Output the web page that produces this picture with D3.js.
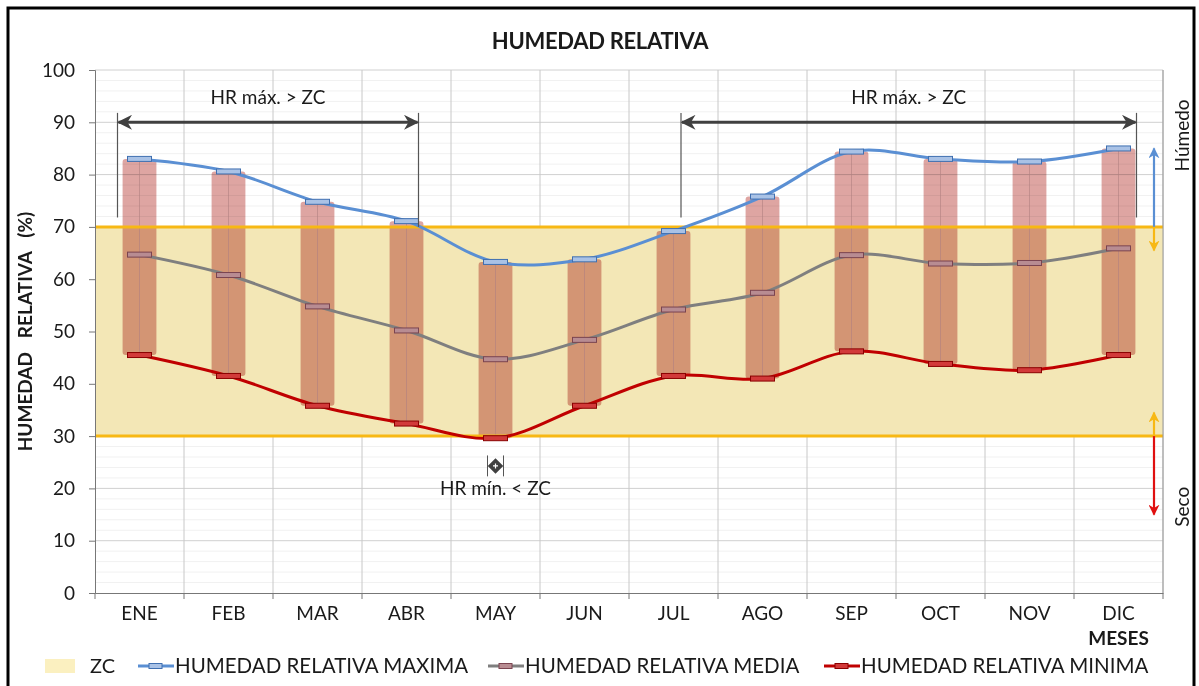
<!DOCTYPE html>
<html>
<head>
<meta charset="utf-8">
<script src="https://cdn.jsdelivr.net/npm/d3@7"></script>
<style>
  body { margin: 0; background: #fff; }
  text { font-family: Lato, "Open Sans", sans-serif; fill: #1a1a1a; }
</style>
</head>
<body>
<div id="chart"></div>
<script>
// ---- data ----
var months = ["ENE", "FEB", "MAR", "ABR", "MAY", "JUN", "JUL", "AGO", "SEP", "OCT", "NOV", "DIC"];
var hrMax   = [83.0, 80.6, 74.8, 71.1, 63.3, 63.8, 69.2, 75.8, 84.4, 83.0, 82.5, 85.0];
var hrMedia = [64.7, 60.8, 54.8, 50.2, 44.7, 48.4, 54.2, 57.4, 64.6, 63.0, 63.1, 65.9];
var hrMin   = [45.5, 41.5, 35.8, 32.4, 29.6, 35.8, 41.5, 41.0, 46.2, 43.8, 42.6, 45.5];
var yTicks  = [0, 10, 20, 30, 40, 50, 60, 70, 80, 90, 100];
var zcLow = 30, zcHigh = 70;

var width = 1199, height = 686;
var margin = {top: 70, right: 36, bottom: 93, left: 95};

var svg = d3.select("#chart").append("svg")
    .attr("width", width)
    .attr("height", height);

var x = d3.scaleBand()
    .domain(months)
    .range([margin.left, width - margin.right])
    .padding(0);

var y = d3.scaleLinear()
    .domain([0, 100])
    .range([height - margin.bottom, margin.top]);

var cx = function(m) { return x(m) + x.bandwidth() / 2; };
var barW = x.bandwidth() * 0.38;

// outer frame
svg.append("rect")
    .attr("x", 8).attr("y", 8)
    .attr("width", width - 13).attr("height", height)
    .style("fill", "none")
    .style("stroke", "#000")
    .style("stroke-width", 3);

// title
svg.append("text")
    .attr("x", 600).attr("y", 49)
    .attr("text-anchor", "middle")
    .style("font-size", "22px")
    .style("font-weight", "bold")
    .style("letter-spacing", "-0.3px")
    .text("HUMEDAD RELATIVA");

// minor gridlines
svg.append("g").selectAll("line")
    .data(d3.range(0, 100, 2).filter(function(v){ return v % 10 != 0; }))
    .enter().append("line")
    .attr("x1", x.range()[0]).attr("x2", x.range()[1])
    .attr("y1", function(d){ return y(d); }).attr("y2", function(d){ return y(d); })
    .style("stroke", "#f1f1f1");

// major gridlines
svg.append("g").selectAll("line")
    .data(yTicks.slice(1))
    .enter().append("line")
    .attr("x1", x.range()[0]).attr("x2", x.range()[1])
    .attr("y1", function(d){ return y(d); }).attr("y2", function(d){ return y(d); })
    .style("stroke", "#d0d0d0");

// vertical gridlines at category boundaries
var bounds = months.map(function(m){ return x(m); }).concat([x.range()[1]]);
svg.append("g").selectAll("line")
    .data(bounds.slice(1))
    .enter().append("line")
    .attr("x1", function(d){ return d; }).attr("x2", function(d){ return d; })
    .attr("y1", y(100)).attr("y2", y(0))
    .style("stroke", "#c8c8c8");

// ZC band
svg.append("rect")
    .attr("x", x.range()[0])
    .attr("y", y(zcHigh))
    .attr("width", x.range()[1] - x.range()[0])
    .attr("height", y(zcLow) - y(zcHigh))
    .style("fill", "#f3e7b6");

// floating bars min -> max
svg.append("g").selectAll("rect")
    .data(months)
    .enter().append("rect")
    .attr("x", function(d){ return cx(d) - barW / 2; })
    .attr("y", function(d, i){ return y(hrMax[i]); })
    .attr("width", barW)
    .attr("height", function(d, i){ return y(hrMin[i]) - y(hrMax[i]); })
    .attr("rx", 3)
    .style("fill", "#dea5a2")
    .style("mix-blend-mode", "multiply");

// thin centre line on each bar
svg.append("g").selectAll("line")
    .data(months)
    .enter().append("line")
    .attr("x1", function(d){ return cx(d); }).attr("x2", function(d){ return cx(d); })
    .attr("y1", function(d, i){ return y(hrMax[i]); })
    .attr("y2", function(d, i){ return y(hrMin[i]); })
    .style("stroke", "#b08080")
    .style("stroke-opacity", 0.6);

// ZC limits
svg.append("g").selectAll("line")
    .data([zcLow, zcHigh])
    .enter().append("line")
    .attr("x1", x.range()[0]).attr("x2", x.range()[1])
    .attr("y1", function(d){ return y(d); }).attr("y2", function(d){ return y(d); })
    .style("stroke", "#f7b814")
    .style("stroke-width", 3);

// axes
var yAxis = svg.append("g")
    .attr("transform", "translate(" + x.range()[0] + ",0)")
    .call(d3.axisLeft(y).tickValues(yTicks).tickSize(6).tickPadding(14));
yAxis.select(".domain").style("stroke", "#777");
yAxis.selectAll(".tick line").style("stroke", "#777");
yAxis.selectAll(".tick text").style("font-size", "19px").style("font-family", "Lato").style("fill", "#1a1a1a");

var xAxis = svg.append("g")
    .attr("transform", "translate(0," + y(0) + ")")
    .call(d3.axisBottom(x).tickSize(0).tickPadding(14));
xAxis.select(".domain").style("stroke", "#777");
xAxis.selectAll(".tick text").style("font-size", "19px").style("font-family", "Lato").style("fill", "#1a1a1a");

svg.append("g").selectAll("line")
    .data(bounds)
    .enter().append("line")
    .attr("x1", function(d){ return d; }).attr("x2", function(d){ return d; })
    .attr("y1", y(0)).attr("y2", y(0) + 6)
    .style("stroke", "#777");

// right plot edge
svg.append("line")
    .attr("x1", x.range()[1]).attr("x2", x.range()[1])
    .attr("y1", y(100)).attr("y2", y(0))
    .style("stroke", "#999");

svg.append("text")
    .attr("x", cx("DIC")).attr("y", 645)
    .attr("text-anchor", "middle")
    .style("font-size", "19px").style("font-weight", "bold")
    .text("MESES");

svg.append("text")
    .attr("transform", "translate(32," + y(50) + ") rotate(-90)")
    .attr("text-anchor", "middle")
    .style("font-size", "19px").style("font-weight", "bold")
    .style("white-space", "pre")
    .text("HUMEDAD   RELATIVA   (%)");

// lines
var series = [
    {name: "HUMEDAD RELATIVA MAXIMA", values: hrMax,   color: "#5a8fd3", mFill: "#a9c2e6", mStroke: "#3f6fb0"},
    {name: "HUMEDAD RELATIVA MEDIA",  values: hrMedia, color: "#7f7f7f", mFill: "#b88c92", mStroke: "#7a4450"},
    {name: "HUMEDAD RELATIVA MINIMA", values: hrMin,   color: "#c00000", mFill: "#d23a3a", mStroke: "#8a0000"}
];

var line = d3.line()
    .curve(d3.curveCatmullRom.alpha(0.5))
    .x(function(d, i){ return cx(months[i]); })
    .y(function(d){ return y(d); });

series.forEach(function(s) {
    svg.append("path")
        .datum(s.values)
        .attr("d", line)
        .style("fill", "none")
        .style("stroke", s.color)
        .style("stroke-width", 3);
});

series.forEach(function(s) {
    svg.append("g").selectAll("rect")
        .data(s.values)
        .enter().append("rect")
        .attr("x", function(d, i){ return cx(months[i]) - 12; })
        .attr("y", function(d){ return y(d) - 2.5; })
        .attr("width", 24).attr("height", 5)
        .style("fill", s.mFill)
        .style("stroke", s.mStroke)
        .style("stroke-width", 1);
});

// ---- annotations ----
var dark = "#404040";
var defs = svg.append("defs");
function marker(id, color) {
    defs.append("marker")
        .attr("id", id)
        .attr("viewBox", "0 0 10 10")
        .attr("refX", 9).attr("refY", 5)
        .attr("markerWidth", 5).attr("markerHeight", 5)
        .attr("orient", "auto-start-reverse")
        .append("path")
        .attr("d", "M0,0 L10,5 L0,10 L3,5 Z")
        .style("fill", color);
}
marker("ah-dark", dark);
marker("ah-blue", "#5a8fd3");
marker("ah-orange", "#f7b814");
marker("ah-red", "#e01010");

function spanArrow(x1, x2, bottoms, label) {
    var g = svg.append("g");
    [x1, x2].forEach(function(xx, i) {
        g.append("line")
            .attr("x1", xx).attr("x2", xx)
            .attr("y1", y(91.8)).attr("y2", y(bottoms[i]))
            .style("stroke", "#555").style("stroke-width", 1.2);
    });
    g.append("line")
        .attr("x1", x1 + 1).attr("x2", x2 - 1)
        .attr("y1", y(90)).attr("y2", y(90))
        .attr("marker-start", "url(#ah-dark)")
        .attr("marker-end", "url(#ah-dark)")
        .style("stroke", dark).style("stroke-width", 3);
    g.append("text")
        .attr("x", (x1 + x2) / 2).attr("y", y(93.5))
        .attr("text-anchor", "middle")
        .style("font-size", "19px")
        .text(label);
}
spanArrow(cx("ENE") - 22, cx("ABR") + 12, [71.8, 70], "HR máx. > ZC");
spanArrow(cx("JUL") + 7.5, cx("DIC") + 18, [71.8, 71.8], "HR máx. > ZC");

// HR min < ZC marker under MAY
var mx = cx("MAY");
[-8, 8].forEach(function(o) {
    svg.append("line")
        .attr("x1", mx + o).attr("x2", mx + o)
        .attr("y1", y(26.3)).attr("y2", y(22.3))
        .style("stroke", "#555");
});
svg.append("rect")
    .attr("x", -5.5).attr("y", -5.5).attr("width", 11).attr("height", 11)
    .attr("transform", "translate(" + mx + "," + y(24.3) + ") rotate(45)")
    .style("fill", dark);
svg.append("path")
    .attr("transform", "translate(" + mx + "," + y(24.3) + ")")
    .attr("d", "M-2.5,0 H2.5 M0,-2.5 V2.5")
    .style("stroke", "#fff").style("stroke-width", 1.2);
svg.append("text")
    .attr("x", mx).attr("y", y(18.7))
    .attr("text-anchor", "middle")
    .style("font-size", "19px")
    .text("HR mín. < ZC");

// side arrows
var ax = x.range()[1] - 9;
function vArrow(v1, v2, color, id) {
    svg.append("line")
        .attr("x1", ax).attr("x2", ax)
        .attr("y1", y(v1)).attr("y2", y(v2))
        .attr("marker-end", "url(#" + id + ")")
        .style("stroke", color).style("stroke-width", 2.2);
}
vArrow(zcHigh, 85, "#5a8fd3", "ah-blue");
vArrow(zcHigh, 65.5, "#f7b814", "ah-orange");
vArrow(zcLow, 34.5, "#f7b814", "ah-orange");
vArrow(zcLow, 15, "#e01010", "ah-red");

svg.append("text")
    .attr("transform", "translate(1189," + y(87.5) + ") rotate(-90)")
    .attr("text-anchor", "middle")
    .style("font-size", "19px")
    .text("Húmedo");
svg.append("text")
    .attr("transform", "translate(1189," + y(16.5) + ") rotate(-90)")
    .attr("text-anchor", "middle")
    .style("font-size", "19px")
    .text("Seco");

// legend
var ly = 666;
var lg = svg.append("g");
lg.append("rect")
    .attr("x", 45).attr("y", ly - 7).attr("width", 30).attr("height", 14)
    .style("fill", "#fbf0c0");
lg.append("text")
    .attr("x", 90).attr("y", ly + 7)
    .style("font-size", "20px")
    .text("ZC");

var legX = [138, 488, 824];
series.forEach(function(s, i) {
    var g = lg.append("g").attr("transform", "translate(" + legX[i] + "," + ly + ")");
    g.append("line")
        .attr("x1", 0).attr("x2", 36)
        .style("stroke", s.color).style("stroke-width", 3);
    g.append("rect")
        .attr("x", 11).attr("y", -2.5).attr("width", 13).attr("height", 5)
        .style("fill", s.mFill).style("stroke", s.mStroke);
    g.append("text")
        .attr("x", 37).attr("y", 7)
        .style("font-size", "20.5px")
        .text(s.name);
});
</script>
</body>
</html>
